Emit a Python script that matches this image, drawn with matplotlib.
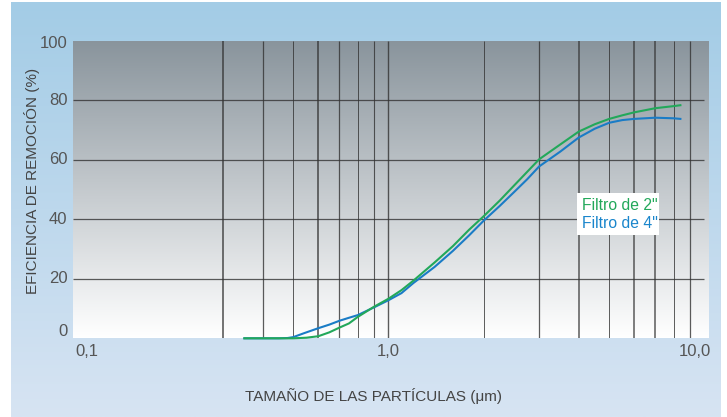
import numpy as np
import matplotlib
matplotlib.use("Agg")
import matplotlib.pyplot as plt
from matplotlib.patches import Rectangle
from matplotlib.ticker import NullLocator

plt.rcParams['font.family'] = ['Liberation Sans', 'DejaVu Sans']

# particle size (um) and removal efficiency (%)
size_2in = [0.35, 0.45, 0.50, 0.55, 0.60, 0.65, 0.70, 0.75, 0.80, 0.90, 1.0, 1.1, 1.2,
            1.4, 1.6, 1.8, 2.0, 2.25, 2.5, 2.75, 3.0, 3.5, 4.0, 4.5, 5.0, 5.5, 6.0,
            7.0, 8.0, 8.4]
eff_2in = [0.0, 0.0, 0.0, 0.2, 0.7, 2.0, 3.6, 5.0, 7.2, 10.6, 13.3, 16.2, 19.4,
           25.5, 31.0, 36.5, 41.0, 46.3, 51.4, 56.0, 60.2, 65.2, 69.5, 72.0, 73.8, 75.0, 76.0,
           77.4, 78.1, 78.4]

size_4in = [0.35, 0.45, 0.48, 0.50, 0.54, 0.60, 0.65, 0.70, 0.75, 0.80, 0.90, 1.0, 1.1,
            1.2, 1.4, 1.6, 1.8, 2.0, 2.25, 2.5, 2.75, 3.0, 3.5, 4.0, 4.5, 5.0, 5.5,
            6.0, 7.0, 8.0, 8.4]
eff_4in = [0.0, 0.0, 0.1, 0.4, 1.7, 3.4, 4.6, 5.9, 6.9, 7.8, 10.4, 12.8, 15.2,
           18.6, 24.0, 29.4, 34.6, 39.5, 44.5, 49.2, 53.5, 57.8, 62.8, 67.5, 70.5, 72.5, 73.4,
           73.8, 74.2, 74.0, 73.8]

series_names = ['Filtro de 2"', 'Filtro de 4"']
series_colors = ['#22a85a', '#1a7cc6']

grid_x = [0.3, 0.4, 0.5, 0.6, 0.7, 0.8, 0.9, 1.0, 2, 3, 4, 5, 6, 7, 8, 9]
grid_lw = [1.2, 0.9, 0.7, 1.2, 0.9, 0.7, 0.8, 1.0, 0.7, 0.9, 1.1, 0.7, 1.1, 1.1, 0.7, 0.9]
grid_y = [20, 40, 60, 80]
ytick_vals = [0, 20, 40, 60, 80, 100]

W, H = 727, 417
fig = plt.figure(figsize=(W / 100, H / 100), dpi=100)
fig.patch.set_facecolor('white')


def px(x, y):
    # pixel position (from top-left) -> figure fraction
    return x / W, 1 - y / H


# light blue panel behind everything
bg = fig.add_axes([11 / W, 0, 710 / W, 415 / H])
bg.axis('off')
top = np.array([163, 204, 230]) / 255
bot = np.array([215, 228, 243]) / 255
t = np.linspace(0, 1, 256)[:, None, None]
bg.imshow(top * (1 - t) + bot * t, aspect='auto', extent=[0, 1, 0, 1])

# plot area
ax = fig.add_axes([72.5 / W, (H - 338.3) / H, 635.2 / W, 297.3 / H])
ax.set_xscale('log')
for s in ax.spines.values():
    s.set_visible(False)
ax.patch.set_alpha(0)
gtop = np.array([137, 148, 156]) / 255
gbot = np.array([255, 255, 255]) / 255
ax.imshow(gtop * (1 - t) + gbot * t, aspect='auto', extent=[0, 1, 0, 1],
          transform=ax.transAxes, zorder=0)

ax.vlines(grid_x, 0, 100, colors='#333333', linewidths=grid_lw, alpha=0.8, zorder=1)
ax.hlines(grid_y, 0.1, 10, colors='#333333', linewidths=0.9, alpha=0.8, zorder=1)

ax.plot(size_4in, eff_4in, color=series_colors[1], lw=1.5, zorder=3, clip_on=False)
ax.plot(size_2in, eff_2in, color=series_colors[0], lw=1.5, zorder=3, clip_on=False)

ax.set_xlim(0.1, 10.25)
ax.set_ylim(0, 100)
ax.set_xticks([])
ax.set_yticks([])
ax.xaxis.set_minor_locator(NullLocator())

txt = '#555555'
# y tick labels
for v in ytick_vals:
    y = 338.3 - v * 2.973
    if v == 0:
        y -= 6.6
    elif v == 100:
        y += 2.5
    fig.text(*px(67.5, y), str(v), ha='right', va='center', fontsize=12, color=txt)

# x tick labels
fig.text(*px(86.7, 351), '0,1', ha='center', va='center', fontsize=12, color=txt)
fig.text(*px(388, 352), '1,0', ha='center', va='center', fontsize=12, color=txt)
fig.text(*px(695, 351.5), '10,0', ha='center', va='center', fontsize=12, color=txt)

fig.text(*px(373.5, 396.5), 'TAMAÑO DE LAS PARTÍCULAS (μm)', ha='center', va='center',
         fontsize=11, color='#444444')
fig.text(*px(32, 181), 'EFICIENCIA DE REMOCIÓN (%)', ha='center', va='center',
         rotation=90, fontsize=11, color='#444444')

# legend box
x0, y0 = px(577.3, 235)
x1, y1 = px(659, 192.7)
fig.patches.append(Rectangle((x0, y0), x1 - x0, y1 - y0, transform=fig.transFigure,
                             facecolor='white', edgecolor='none', zorder=5))
fig.text(*px(582.5, 205.5), series_names[0], ha='left', va='center', fontsize=11.3,
         color=series_colors[0], zorder=6)
fig.text(*px(582.5, 223.5), series_names[1], ha='left', va='center', fontsize=11.3,
         color='#1a86cc', zorder=6)

fig.savefig('out.png', dpi=100)
